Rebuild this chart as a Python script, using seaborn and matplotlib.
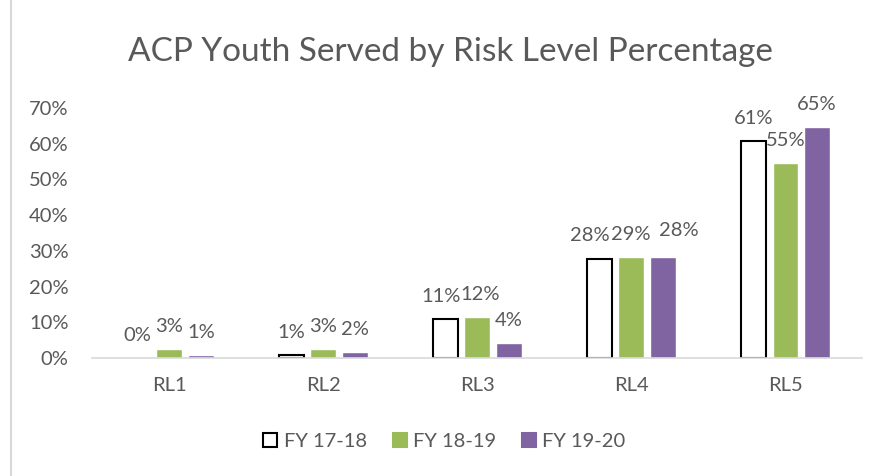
import numpy as np
import pandas as pd
import seaborn as sea
import matplotlib.pyplot as plt
from matplotlib.patches import Rectangle
from matplotlib.ticker import FuncFormatter

# values (percent)
levels = ['RL1', 'RL2', 'RL3', 'RL4', 'RL5']
years = ['FY 17-18', 'FY 18-19', 'FY 19-20']
fy1718 = [0.0, 0.8, 10.9, 27.7, 60.8]
fy1819 = [2.5, 2.5, 11.6, 28.4, 54.6]
fy1920 = [0.8, 1.6, 4.2, 28.4, 64.7]
lab1718 = ['0%', '1%', '11%', '28%', '61%']
lab1819 = ['3%', '3%', '12%', '29%', '55%']
lab1920 = ['1%', '2%', '4%', '28%', '65%']

gray = '#595959'
colors = ['#FFFFFF', '#9BBB59', '#8064A2']

data = pd.DataFrame({
    'level': levels * 3,
    'year': [y for y in years for _ in levels],
    'pct': fy1718 + fy1819 + fy1920,
})

sea.set_style('white')
plt.rcParams['font.family'] = ['Lato', 'DejaVu Sans']

fig = plt.figure(figsize=(8.89, 4.76), dpi=100)
ax = fig.add_axes([0.1035, 0.248, 0.8665, 0.525])

sea.barplot(data=data, x='level', y='pct', hue='year', hue_order=years,
            palette=colors, saturation=1, width=0.62, gap=0.2, ax=ax,
            legend=False)

# white bars get black outline (none if the bar is empty)
for bar in ax.containers[0]:
    bar.set_edgecolor('black')
    bar.set_linewidth(1.5 if bar.get_height() > 0 else 0)

texts = []
for cont, labs in zip(ax.containers, [lab1718, lab1819, lab1920]):
    texts.append(ax.bar_label(cont, labels=labs, padding=10, fontsize=14.5, color=gray))

# spread some labels a bit like excel did
texts[0][2].xyann = (-3, 10)
texts[1][2].xyann = (2, 10)
texts[0][3].xyann = (-7, 11)
texts[2][3].xyann = (11, 13)

ax.set_ylim(0, 70)
ax.set_yticks(range(0, 71, 10))
ax.yaxis.set_major_formatter(FuncFormatter(lambda v, p: '%d%%' % v))
ax.set_xlim(-0.5, 4.5)
ax.set_xlabel('')
ax.set_ylabel('')
ax.tick_params(axis='both', labelsize=14.5, colors=gray, length=0)
ax.tick_params(axis='x', pad=14)
ax.tick_params(axis='y', pad=17)
sea.despine(ax=ax, left=True)
ax.spines['bottom'].set_color('#D9D9D9')
ax.spines['bottom'].set_linewidth(1.2)

fig.text(0.507, 0.89, 'ACP Youth Served by Risk Level Percentage',
         ha='center', va='center', fontsize=24, color=gray)

handles = [Rectangle((0, 0), 1, 1, facecolor=c,
                     edgecolor='black' if i == 0 else c, linewidth=1.5)
           for i, c in enumerate(colors)]
fig.legend(handles, years, loc='center', bbox_to_anchor=(0.5, 0.073), ncol=3,
           frameon=False, fontsize=14.5, labelcolor=gray, handlelength=0.7,
           handleheight=0.7, handletextpad=0.3, columnspacing=1.3)

fig.patches.append(Rectangle((0.012, -0.01), 0.99, 1.02, transform=fig.transFigure,
                             fill=False, edgecolor='#D9D9D9', linewidth=1.5))

fig.savefig('out.png', dpi=100)
